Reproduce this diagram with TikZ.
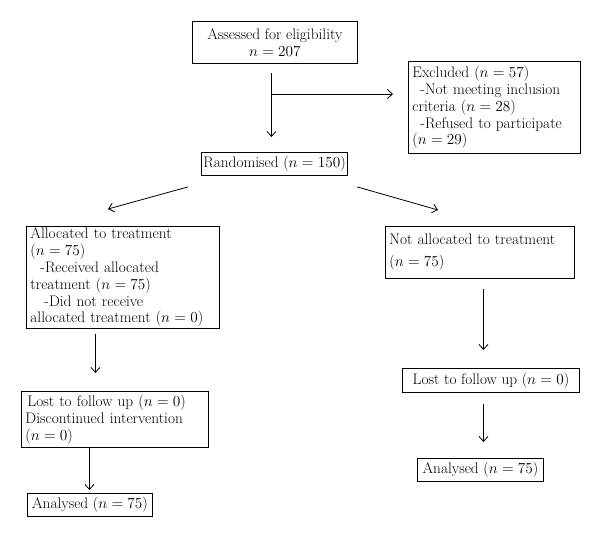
\RequirePackage{fix-cm}
\documentclass[tikz,border=0pt]{standalone}
\usepackage{amsmath}
\usepackage{tikz}
\usetikzlibrary{arrows.meta}

\tikzset{
    box/.style={draw, line width=0.9pt, inner xsep=4pt, inner ysep=1pt,
        anchor=north west, align=left, font=\fontsize{15.3}{16.8}\selectfont},
    arr/.style={-{Straight Barb[length=5pt,width=9pt]}, line width=0.8pt}
}

\begin{document}
\begin{tikzpicture}[x=1pt, y=-1pt]
    \useasboundingbox (0, 0) rectangle (600, 544);

    % screening
    \node[box, align=center, minimum width=165, minimum height=42] (assess) at (192, 21)
        {Assessed for eligibility\\ $n = 207$};
    \node[box, minimum width=172, minimum height=92, text width=164] (excl) at (408, 61)
        {Excluded ($n = 57$)\\
         \hspace*{8pt}-Not meeting inclusion\\
         criteria ($n = 28$)\\
         \hspace*{8pt}-Refused to participate\\
         ($n = 29$)};
    \node[box, align=center, inner xsep=2pt, minimum width=142, minimum height=23] (rand) at (201, 152)
        {Randomised ($n = 150$)};

    % allocation
    \node[box, minimum width=193, minimum height=102, text width=185] (alloc) at (26, 226)
        {Allocated to treatment\\
         ($n = 75$)\\
         \hspace*{10pt}-Received allocated\\
         treatment ($n = 75$)\\
         \hspace*{14pt}-Did not receive\\
         allocated treatment ($n = 0$)};
    \node[box, minimum width=189, minimum height=52, text width=181] (notalloc) at (385, 226)
        {Not allocated to treatment\\[5pt]
         ($n = 75$)};

    % follow up
    \node[box, minimum width=187, minimum height=56, text width=179] (lostL) at (21, 391)
        {\hspace*{2pt}Lost to follow up ($n = 0$)\\
         Discontinued intervention\\
         ($n = 0$)};
    \node[box, minimum width=177, minimum height=24] (lostR) at (402, 368)
        {Lost to follow up ($n = 0$)};

    % analysis
    \node[box, minimum width=125, minimum height=23] (anaL) at (27, 493)
        {Analysed ($n = 75$)};
    \node[box, minimum width=126, minimum height=23] (anaR) at (417, 458)
        {Analysed ($n = 75$)};

    % arrows
    \coordinate (br) at (271, 94);
    \draw[arr, shorten <=9pt, shorten >=15pt] ([xshift=-3.5pt]assess.south) -- ([xshift=-3.5pt]assess.south |- rand.north);
    \draw[arr, shorten >=15pt] (br) -- (br -| excl.west);
    \draw[arr] ([shift={(-13, 11)}]rand.south west) -- ([shift={(82, -17)}]alloc.north west);
    \draw[arr] ([shift={(9, 11)}]rand.south east) -- ([shift={(53, -16)}]notalloc.north west);
    \draw[arr, shorten <=5pt, shorten >=18pt] ([xshift=-27.5pt]alloc.south) -- ([xshift=-27.5pt]alloc.south |- lostL.north);
    \draw[arr, shorten >=3pt] ([xshift=-25.5pt]lostL.south) -- ([xshift=-25.5pt]lostL.south |- anaL.north);
    \draw[arr, shorten <=10pt, shorten >=18pt] ([xshift=3.5pt]notalloc.south) -- ([xshift=3.5pt]notalloc.south |- lostR.north);
    \draw[arr, shorten <=11pt, shorten >=16pt] ([xshift=-7.5pt]lostR.south) -- ([xshift=-7.5pt]lostR.south |- anaR.north);
\end{tikzpicture}
\end{document}
